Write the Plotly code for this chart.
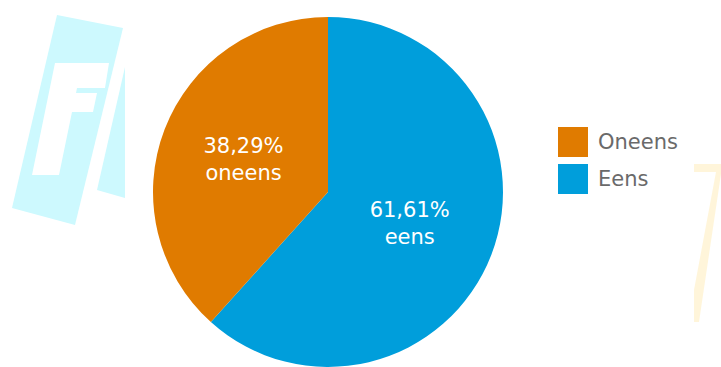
import plotly.graph_objects as go

labels = ["Oneens", "Eens"]
values = [38.29, 61.61]
colors = ["#E07B00", "#009EDB"]

W, H = 721, 367
FONT = "DejaVu Sans"

def px(x, y):
    return x / W, 1 - y / H

def path(points):
    s = ""
    for i, (x, y) in enumerate(points):
        xx, yy = px(x, y)
        s += ("M" if i == 0 else "L") + f"{xx:.5f},{yy:.5f} "
    return s + "Z"

fig = go.Figure()
# drawn clockwise from 12 o'clock with "Eens" first, so "Oneens" ends at the top
fig.add_trace(go.Pie(
    labels=labels[::-1],
    values=values[::-1],
    text=[l.lower() for l in labels[::-1]],
    texttemplate="%{value:.2f}%<br>%{text}",
    textinfo="text",
    textposition="inside",
    insidetextorientation="horizontal",
    textfont=dict(family=FONT, size=21, color="white"),
    marker=dict(colors=colors[::-1], line=dict(width=0)),
    sort=False,
    direction="clockwise",
    rotation=0,
    showlegend=False,
    hoverinfo="label+percent",
    domain=dict(x=[153 / W, 503 / W], y=[0, 1 - 17 / H]),
))

# background watermark decoration
cyan = "#CDF9FE"
shapes = [
    dict(type="path", xref="paper", yref="paper", layer="below",
         path=path([(57, 15), (123, 28), (75, 225), (12, 208)]),
         fillcolor=cyan, line=dict(width=0)),
    dict(type="path", xref="paper", yref="paper", layer="below",
         path=path([(125, 67), (125, 198), (97, 190)]),
         fillcolor=cyan, line=dict(width=0)),
    dict(type="path", xref="paper", yref="paper", layer="below",
         path=path([(55, 63), (109, 63), (105, 88), (77, 88), (76, 93),
                    (97, 93), (93, 112), (72, 112), (59, 175), (32, 175)]),
         fillcolor="white", line=dict(width=0)),
    dict(type="path", xref="paper", yref="paper", layer="below",
         path=path([(694, 164), (721, 164), (721, 174), (699, 322), (694, 322),
                    (694, 290), (716, 172), (694, 172)]),
         fillcolor="rgba(255,225,150,0.35)", line=dict(width=0)),
]

# manual legend
legend_tops = [127, 164]
annotations = []
for lab, col, top in zip(labels, colors, legend_tops):
    x0, y0 = px(558, top)
    x1, y1 = px(588, top + 30)
    shapes.append(dict(type="rect", xref="paper", yref="paper",
                       x0=x0, x1=x1, y0=y1, y1=y0,
                       fillcolor=col, line=dict(width=0)))
    ax, ay = px(596, top + 15)
    annotations.append(dict(text=lab, x=ax, y=ay, xref="paper", yref="paper",
                            xanchor="left", yanchor="middle", showarrow=False,
                            font=dict(family=FONT, size=21, color="#6A6A6A")))

fig.update_layout(
    width=W, height=H,
    margin=dict(l=0, r=0, t=0, b=0),
    paper_bgcolor="white",
    plot_bgcolor="white",
    separators=",.",
    shapes=shapes,
    annotations=annotations,
    showlegend=False,
)

fig.write_html("out.html")
